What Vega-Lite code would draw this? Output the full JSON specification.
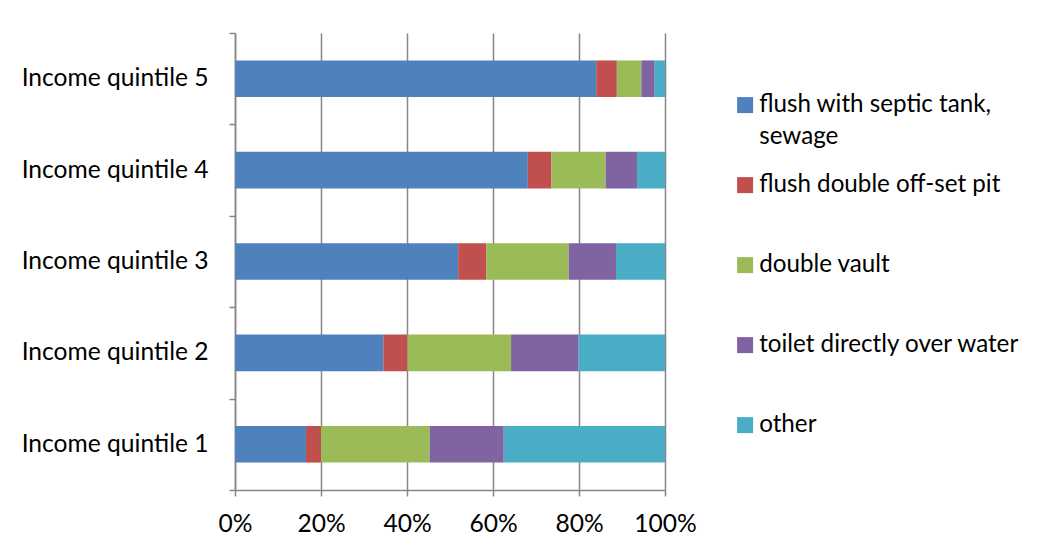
{
  "$schema": "https://vega.github.io/schema/vega-lite/v6.json",
  "width": 430,
  "height": 457,
  "autosize": "none",
  "padding": {"left": 235, "top": 33, "right": 388, "bottom": 65},
  "background": "white",
  "data": {
    "values": [
      {"quintile": "Income quintile 5", "type": "flush with septic tank, sewage", "o": 1, "value": 84.0},
      {"quintile": "Income quintile 5", "type": "flush double off-set pit", "o": 2, "value": 4.8},
      {"quintile": "Income quintile 5", "type": "double vault", "o": 3, "value": 5.7},
      {"quintile": "Income quintile 5", "type": "toilet directly over water", "o": 4, "value": 3.1},
      {"quintile": "Income quintile 5", "type": "other", "o": 5, "value": 2.4},
      {"quintile": "Income quintile 4", "type": "flush with septic tank, sewage", "o": 1, "value": 68.1},
      {"quintile": "Income quintile 4", "type": "flush double off-set pit", "o": 2, "value": 5.5},
      {"quintile": "Income quintile 4", "type": "double vault", "o": 3, "value": 12.6},
      {"quintile": "Income quintile 4", "type": "toilet directly over water", "o": 4, "value": 7.3},
      {"quintile": "Income quintile 4", "type": "other", "o": 5, "value": 6.5},
      {"quintile": "Income quintile 3", "type": "flush with septic tank, sewage", "o": 1, "value": 51.9},
      {"quintile": "Income quintile 3", "type": "flush double off-set pit", "o": 2, "value": 6.5},
      {"quintile": "Income quintile 3", "type": "double vault", "o": 3, "value": 19.2},
      {"quintile": "Income quintile 3", "type": "toilet directly over water", "o": 4, "value": 11.0},
      {"quintile": "Income quintile 3", "type": "other", "o": 5, "value": 11.4},
      {"quintile": "Income quintile 2", "type": "flush with septic tank, sewage", "o": 1, "value": 34.5},
      {"quintile": "Income quintile 2", "type": "flush double off-set pit", "o": 2, "value": 5.6},
      {"quintile": "Income quintile 2", "type": "double vault", "o": 3, "value": 24.1},
      {"quintile": "Income quintile 2", "type": "toilet directly over water", "o": 4, "value": 15.7},
      {"quintile": "Income quintile 2", "type": "other", "o": 5, "value": 20.1},
      {"quintile": "Income quintile 1", "type": "flush with septic tank, sewage", "o": 1, "value": 16.5},
      {"quintile": "Income quintile 1", "type": "flush double off-set pit", "o": 2, "value": 3.5},
      {"quintile": "Income quintile 1", "type": "double vault", "o": 3, "value": 25.3},
      {"quintile": "Income quintile 1", "type": "toilet directly over water", "o": 4, "value": 17.2},
      {"quintile": "Income quintile 1", "type": "other", "o": 5, "value": 37.5}
    ]
  },
  "mark": {"type": "bar", "height": {"band": 0.4}},
  "encoding": {
    "y": {
      "field": "quintile",
      "type": "nominal",
      "sort": ["Income quintile 5", "Income quintile 4", "Income quintile 3", "Income quintile 2", "Income quintile 1"],
      "scale": {"paddingInner": 0, "paddingOuter": 0},
      "axis": {
        "title": null,
        "tickBand": "extent",
        "tickSize": 6,
        "tickColor": "#868686",
        "tickWidth": 1.5,
        "domainColor": "#868686",
        "domainWidth": 1.5,
        "labelPadding": 21,
        "labelFont": "Lato",
        "labelFontSize": 24.6,
        "labelColor": "black",
        "labelLimit": 300,
        "grid": false
      }
    },
    "x": {
      "field": "value",
      "type": "quantitative",
      "stack": "normalize",
      "scale": {"domain": [0, 1]},
      "axis": {
        "title": null,
        "format": "%",
        "values": [0, 0.2, 0.4, 0.6, 0.8, 1],
        "grid": true,
        "gridColor": "#868686",
        "gridWidth": 1.5,
        "tickSize": 6,
        "tickColor": "#868686",
        "tickWidth": 1.5,
        "domainColor": "#868686",
        "domainWidth": 1.5,
        "labelPadding": 16,
        "labelFont": "Lato",
        "labelFontSize": 24.6,
        "labelColor": "black",
        "labelFlush": false
      }
    },
    "color": {
      "field": "type",
      "type": "nominal",
      "scale": {
        "domain": ["flush with septic tank, sewage", "flush double off-set pit", "double vault", "toilet directly over water", "other"],
        "range": ["#4F81BD", "#C0504D", "#9BBB59", "#8064A2", "#4BACC6"]
      },
      "legend": {
        "title": null,
        "orient": "none",
        "legendX": 498,
        "legendY": 60,
        "padding": 0,
        "symbolType": "square",
        "symbolSize": 256,
        "symbolStrokeWidth": 0,
        "symbolOpacity": 1,
        "labelFont": "Lato",
        "labelFontSize": 24.2,
        "labelColor": "black",
        "labelOffset": 2,
        "labelLimit": 400,
        "rowPadding": 23,
        "labelExpr": "datum.label == 'flush with septic tank, sewage' ? ['flush with septic tank,', 'sewage'] : [datum.label, '']",
        "encode": {
          "labels": {
            "update": {
              "lineHeight": {"value": 32}
            }
          }
        }
      }
    },
    "order": {"field": "o", "type": "quantitative"}
  },
  "config": {"view": {"stroke": null}}
}
